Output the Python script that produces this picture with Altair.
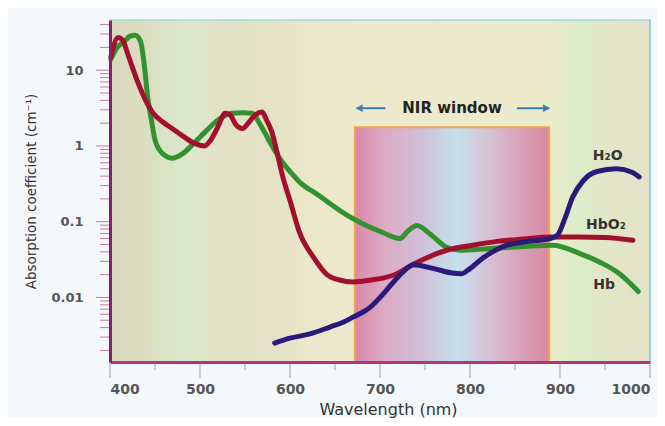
import altair as alt
import pandas as pd

# ---------------- data ----------------
hb_wl = [401, 408, 416, 422, 428, 434, 438, 442, 446, 450, 458, 469, 480, 492, 505, 520, 535,
         548, 558, 566, 572, 581, 592, 600, 611, 630, 667, 703, 722, 731, 741, 755, 774, 790,
         820, 860, 892, 922, 945, 965, 987]
hb_val = [14, 20, 24, 28, 29, 24, 12, 4.3, 2.2, 1.2, 0.8, 0.69, 0.78, 1.05, 1.5, 2.2, 2.7,
          2.75, 2.7, 2.0, 1.5, 0.96, 0.6, 0.46, 0.33, 0.23, 0.115, 0.072, 0.06, 0.075, 0.089,
          0.07, 0.046, 0.042, 0.044, 0.047, 0.049, 0.038, 0.029, 0.021, 0.012]

hbo2_wl = [401, 409, 414, 420, 431, 440, 447, 458, 469, 481, 494, 505, 512, 520, 528, 533, 540,
           547, 555, 562, 569, 574, 580, 585, 592, 600, 611, 626, 641, 655, 670, 690, 714, 741,
           774, 803, 830, 859, 889, 920, 950, 981]
hbo2_val = [15, 27, 25, 16, 6.9, 3.9, 2.8, 2.1, 1.7, 1.35, 1.08, 1.0, 1.2, 1.8, 2.7, 2.6, 1.9,
            1.7, 2.1, 2.6, 2.8, 2.2, 1.5, 0.88, 0.39, 0.19, 0.07, 0.034, 0.02, 0.017, 0.016,
            0.017, 0.0195, 0.029, 0.042, 0.049, 0.055, 0.059, 0.063, 0.063, 0.062, 0.057]

h2o_wl = [583, 600, 622, 645, 659, 670, 689, 700, 714, 726, 737, 760, 780, 790, 800, 814, 830,
          841, 860, 889, 897, 906, 914, 926, 941, 963, 980, 988]
h2o_val = [0.0025, 0.0029, 0.0033, 0.0041, 0.0047, 0.0055, 0.0074, 0.01, 0.0155, 0.022, 0.027,
           0.024, 0.021, 0.0205, 0.024, 0.033, 0.043, 0.049, 0.054, 0.06, 0.066, 0.115, 0.21,
           0.35, 0.46, 0.5, 0.45, 0.39]

series_labels = ["H\u2082O", "HbO\u2082", "Hb"]
label_wl = [953, 951, 949]
label_val = [0.73, 0.0896, 0.0144]

nir_start, nir_end, nir_top = 672, 888, 1.77
arrow_level = 3.15

x_major = [400, 500, 600, 700, 800, 900, 1000]
x_minor = [450, 550, 650, 750, 850, 950]
y_major = [0.01, 0.1, 1, 10]
y_minor = [m * d for d in [0.001, 0.01, 0.1, 1] for m in range(2, 10)] + [20, 30, 40]

X_DOMAIN = [400, 1000]
Y_DOMAIN = [0.001406, 46]

# ---------------- styles ----------------
FONT = "DejaVu Sans"
xs = alt.Scale(domain=X_DOMAIN, nice=False, zero=False)
ys = alt.Scale(type="log", domain=Y_DOMAIN, nice=False)

X_AXIS = alt.Axis(
    values=x_major, format="d", ticks=False, grid=False, labelPadding=20,
    labelFont=FONT, labelFontSize=14, labelFontWeight="bold", labelColor="#555555",
    domainColor="#b3337f", domainWidth=3, zindex=1,
    title="Wavelength (nm)", titleFont=FONT, titleFontSize=16, titleFontWeight="normal",
    titleColor="#333333", titleX=278, titleY=47, titleBaseline="middle", titleAlign="center")
Y_AXIS = alt.Axis(
    values=y_major, format="~g", ticks=False, grid=False, labelPadding=27,
    labelFont=FONT, labelFontSize=13, labelFontWeight="bold", labelColor="#555555",
    domainColor="#8a1c72", domainWidth=3, zindex=1,
    title="Absorption coefficient (cm\u207b\u00b9)", titleFont=FONT, titleFontSize=13.5,
    titleFontWeight="normal", titleColor="#333333", titleAngle=270, titleX=-79, titleY=171,
    titleBaseline="middle", titleAlign="center")


def X(field):
    return alt.X(field, scale=xs, axis=X_AXIS)


def Y(field):
    return alt.Y(field, scale=ys, axis=Y_AXIS)


bg_grad = {
    "gradient": "linear", "x1": 0, "y1": 0, "x2": 1, "y2": 0,
    "stops": [
        {"offset": 0.0, "color": "#d8d9bd"},
        {"offset": 0.06, "color": "#dcdcc0"},
        {"offset": 0.10, "color": "#d9e3c6"},
        {"offset": 0.15, "color": "#dde8cc"},
        {"offset": 0.20, "color": "#e0e1c6"},
        {"offset": 0.30, "color": "#e4e2c6"},
        {"offset": 0.38, "color": "#ebe8cb"},
        {"offset": 0.45, "color": "#ede9cd"},
        {"offset": 0.82, "color": "#ebebca"},
        {"offset": 0.87, "color": "#dcebc9"},
        {"offset": 0.92, "color": "#e3e7c8"},
        {"offset": 1.0, "color": "#e2e2c6"},
    ],
}
nir_grad = {
    "gradient": "linear", "x1": 0, "y1": 0, "x2": 1, "y2": 0,
    "stops": [
        {"offset": 0.0, "color": "#d888a6"},
        {"offset": 0.15, "color": "#dcaac4"},
        {"offset": 0.35, "color": "#d0c0da"},
        {"offset": 0.52, "color": "#c4e0ec"},
        {"offset": 0.68, "color": "#d6c4d8"},
        {"offset": 0.85, "color": "#d9a2b8"},
        {"offset": 1.0, "color": "#d788a2"},
    ],
}

# ---------------- layers ----------------
bg = alt.Chart(pd.DataFrame({"x": [X_DOMAIN[0]], "x2": [X_DOMAIN[1]],
                             "y": [Y_DOMAIN[0]], "y2": [Y_DOMAIN[1]]})).mark_rect(
    fill=bg_grad).encode(x=X("x:Q"), x2="x2:Q", y=Y("y:Q"), y2="y2:Q")

nir = alt.Chart(pd.DataFrame({"x": [nir_start], "x2": [nir_end],
                              "y": [Y_DOMAIN[0]], "y2": [nir_top]})).mark_rect(
    fill=nir_grad, stroke="#f0a54a", strokeWidth=2).encode(
    x=X("x:Q"), x2="x2:Q", y=Y("y:Q"), y2="y2:Q")


def line(wl, val, color):
    return alt.Chart(pd.DataFrame({"wl": wl, "v": val})).mark_line(
        color=color, strokeWidth=5, interpolate="monotone", strokeCap="round",
        strokeJoin="round").encode(x=X("wl:Q"), y=Y("v:Q"))


hb_line = line(hb_wl, hb_val, "#33922f")
hbo2_line = line(hbo2_wl, hbo2_val, "#a3102e")
h2o_line = line(h2o_wl, h2o_val, "#2a1a7a")

labels = alt.Chart(pd.DataFrame({"x": label_wl, "y": label_val, "t": series_labels})).mark_text(
    font=FONT, fontSize=14, fontWeight="bold", color="#333333", align="center",
    baseline="middle").encode(x=X("x:Q"), y=Y("y:Q"), text="t:N")

nir_label = alt.Chart(pd.DataFrame({"x": [(nir_start + nir_end) / 2], "y": [arrow_level],
                                    "t": ["NIR window"]})).mark_text(
    font=FONT, fontSize=15, fontWeight="bold", color="#222222", align="center",
    baseline="middle").encode(x=X("x:Q"), y=Y("y:Q"), text="t:N")

arrow_df = pd.DataFrame({"x": [nir_start + 2, nir_end - 36], "x2": [nir_start + 34, nir_end],
                         "y": [arrow_level, arrow_level]})
arrow_lines = alt.Chart(arrow_df).mark_rule(color="#3d7db3", strokeWidth=2).encode(
    x=X("x:Q"), x2="x2:Q", y=Y("y:Q"))
head_df = pd.DataFrame({"x": [nir_start + 5, nir_end - 3], "y": [arrow_level, arrow_level],
                        "s": ["triangle-left", "triangle-right"]})
arrow_heads = alt.Chart(head_df).mark_point(filled=True, color="#3d7db3", size=60,
                                            opacity=1).encode(
    x=X("x:Q"), y=Y("y:Q"), shape=alt.Shape("s:N", scale=None))

TICK_COLOR = "#c27aa6"
y_major_ticks = alt.Chart(pd.DataFrame({"v": y_major})).mark_rule(
    color=TICK_COLOR, strokeWidth=1).encode(y=Y("v:Q"), x=alt.value(-14), x2=alt.value(-1))
y_minor_ticks = alt.Chart(pd.DataFrame({"v": y_minor})).mark_rule(
    color=TICK_COLOR, strokeWidth=1).encode(y=Y("v:Q"), x=alt.value(-10), x2=alt.value(-1))
x_major_ticks = alt.Chart(pd.DataFrame({"v": x_major})).mark_rule(
    color="#b394aa", strokeWidth=1).encode(x=X("v:Q"), y=alt.value(343), y2=alt.value(358))
x_minor_ticks = alt.Chart(pd.DataFrame({"v": x_minor})).mark_rule(
    color="#b394aa", strokeWidth=1).encode(x=X("v:Q"), y=alt.value(343), y2=alt.value(350))

top_border = alt.Chart(pd.DataFrame({"v": [Y_DOMAIN[1]]})).mark_rule(
    color="#b6dbe0", strokeWidth=2).encode(y=Y("v:Q"), x=alt.value(0), x2=alt.value(540))
right_border = alt.Chart(pd.DataFrame({"v": [X_DOMAIN[1]]})).mark_rule(
    color="#9cc8e0", strokeWidth=2).encode(x=X("v:Q"), y=alt.value(0), y2=alt.value(342))

chart = alt.layer(
    bg, nir, top_border, right_border, hb_line, hbo2_line, h2o_line, labels,
    arrow_lines, arrow_heads, nir_label,
    y_major_ticks, y_minor_ticks, x_major_ticks, x_minor_ticks,
).properties(
    width=540, height=342,
    autosize=alt.AutoSizeParams(type="none"),
    padding={"left": 102, "top": 12, "right": 7, "bottom": 56},
    background="#f4f8fb",
).configure_view(stroke=None)

chart.save("out.html", embed_options={"renderer": "svg", "actions": False})
